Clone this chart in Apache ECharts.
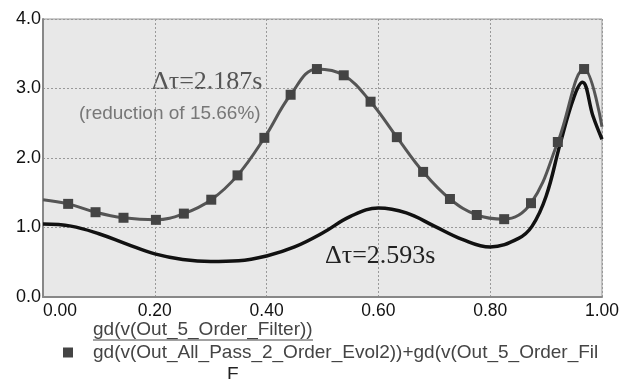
<!DOCTYPE html>
<html>
<head>
<meta charset="utf-8">
<script src="https://cdn.jsdelivr.net/npm/echarts@6/dist/echarts.min.js"></script>
<style>
  html, body { margin: 0; padding: 0; background: #ffffff; }
  #chart { width: 632px; height: 379px; }
</style>
</head>
<body>
<div id="chart"></div>
<script>
// Nombres de las series (leyenda)
const filterName = 'gd(v(Out_5_Order_Filter))';
const sumName = 'gd(v(Out_All_Pass_2_Order_Evol2))+gd(v(Out_5_Order_Filter))';

// Curva negra: retardo de grupo del filtro de orden 5
const filterX = [0, 0.05, 0.1, 0.15, 0.2, 0.25, 0.3, 0.35, 0.4, 0.45, 0.5, 0.55, 0.6, 0.65, 0.7, 0.75, 0.8, 0.85, 0.875, 0.9, 0.925, 0.95, 0.965, 0.984, 1.0];
const filterY = [1.05, 1.02, 0.91, 0.76, 0.62, 0.54, 0.51, 0.52, 0.59, 0.72, 0.92, 1.16, 1.28, 1.21, 1.02, 0.83, 0.72, 0.84, 1.02, 1.45, 2.2, 2.88, 3.09, 2.6, 2.27];

// Curva gris con marcadores: filtro + pasa-todo de orden 2
const sumX = [0, 0.045, 0.094, 0.144, 0.202, 0.252, 0.301, 0.348, 0.396, 0.443, 0.490, 0.538, 0.586, 0.633, 0.680, 0.728, 0.776, 0.825, 0.873, 0.921, 0.968, 1.0];
const sumY = [1.40, 1.34, 1.22, 1.14, 1.11, 1.20, 1.40, 1.75, 2.29, 2.91, 3.28, 3.19, 2.81, 2.30, 1.80, 1.41, 1.18, 1.12, 1.35, 2.23, 3.28, 2.45];

// Etiquetas de los ejes
const xTicks = [0, 0.2, 0.4, 0.6, 0.8, 1.0];
const yTicks = [0, 1, 2, 3, 4];

const chart = echarts.init(document.getElementById('chart'));

const filterData = filterX.map((x, i) => [x, filterY[i]]);
const sumData = sumX.map((x, i) => [x, sumY[i]]);

const option = {
    backgroundColor: '#ffffff',
    animation: false,
    grid: {
        left: 43, top: 19, right: 30, bottom: 82,
        show: true,
        backgroundColor: '#e8e8e8',
        borderColor: '#999',
        borderWidth: 1
    },
    xAxis: {
        type: 'value',
        min: xTicks[0],
        max: xTicks[xTicks.length - 1],
        interval: 0.2,
        axisLine: { show: true, lineStyle: { color: '#888', width: 2 } },
        axisTick: { show: false },
        axisLabel: {
            color: '#111',
            fontFamily: 'Liberation Sans',
            fontSize: 17.5,
            margin: 5,
            alignMinLabel: 'left',
            formatter: v => v.toFixed(2)
        },
        splitLine: { show: true, lineStyle: { color: '#999', type: [2, 2], width: 1 } }
    },
    yAxis: {
        type: 'value',
        min: yTicks[0],
        max: yTicks[yTicks.length - 1],
        interval: 1,
        axisLine: { show: true, lineStyle: { color: '#888', width: 2 } },
        axisTick: { show: false },
        axisLabel: {
            color: '#111',
            fontFamily: 'Liberation Sans',
            fontSize: 18,
            margin: 2,
            formatter: v => v.toFixed(1)
        },
        splitLine: { show: true, lineStyle: { color: '#999', type: [2, 2], width: 1 } }
    },
    legend: [
        {
            data: [{ name: filterName, icon: 'none' }],
            left: 88, top: 320,
            itemWidth: 0, itemHeight: 0,
            padding: 0,
            textStyle: { color: '#444', fontFamily: 'Liberation Sans', fontSize: 19 }
        },
        {
            data: [{ name: sumName, icon: 'rect' }],
            left: 63, top: 343,
            itemWidth: 10, itemHeight: 10,
            itemGap: 0,
            padding: 0,
            textStyle: {
                color: '#444', fontFamily: 'Liberation Sans', fontSize: 19,
                padding: [0, 0, 0, 15],
                width: 507, overflow: 'truncate', ellipsis: ''
            }
        }
    ],
    graphic: [
        // subrayado de la primera entrada de la leyenda
        { type: 'line', shape: { x1: 93, y1: 340, x2: 313, y2: 340 }, style: { stroke: '#444', lineWidth: 1 } },
        {
            type: 'text', left: 152, top: 69,
            style: { text: 'Δτ=2.187s', fill: '#555', font: '26px "Liberation Serif"' }
        },
        {
            type: 'text', left: 79, top: 104,
            style: { text: '(reduction of 15.66%)', fill: '#777', font: '19px "Liberation Sans"' }
        },
        {
            type: 'text', left: 325, top: 243,
            style: { text: 'Δτ=2.593s', fill: '#222', font: '26px "Liberation Serif"' }
        },
        {
            type: 'text', left: 227, top: 365,
            style: { text: 'F', fill: '#222', font: '19px "Liberation Sans"' }
        }
    ],
    series: [
        {
            name: filterName,
            type: 'line',
            data: filterData,
            smooth: 0.4,
            showSymbol: false,
            symbol: 'none',
            lineStyle: { color: '#111', width: 3.5 },
            itemStyle: { color: '#111' },
            z: 3
        },
        {
            name: sumName,
            type: 'line',
            data: sumData,
            smooth: 0.4,
            symbol: (val, params) => (params.dataIndex === 0 || params.dataIndex === sumData.length - 1) ? 'none' : 'rect',
            symbolSize: 10,
            showAllSymbol: true,
            lineStyle: { color: '#555', width: 3 },
            itemStyle: { color: '#444', borderWidth: 0 },
            z: 4
        }
    ]
};

chart.setOption(option);
</script>
</body>
</html>
